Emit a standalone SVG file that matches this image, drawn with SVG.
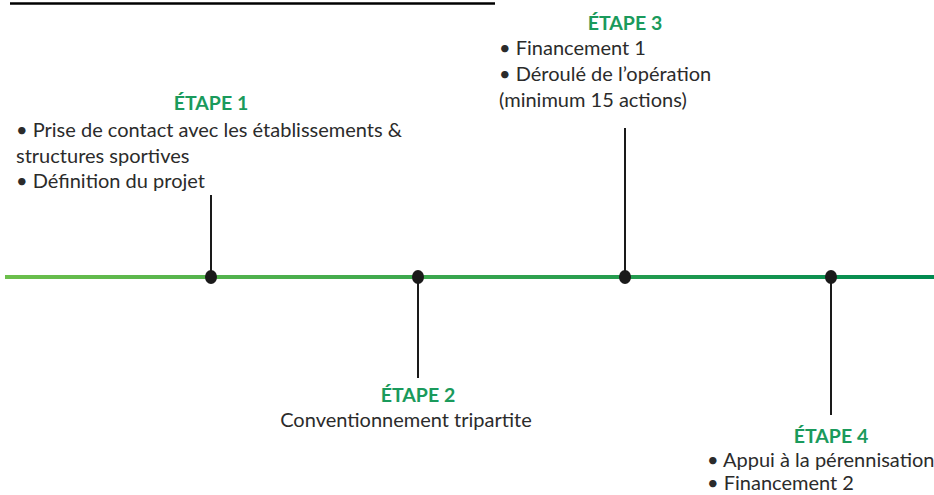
<svg xmlns="http://www.w3.org/2000/svg" width="934" height="495" viewBox="0 0 934 495">
<style>
.h{font-family:Lato,"Liberation Sans",sans-serif;font-weight:bold;font-size:19.5px;fill:#1a9a5c;text-anchor:middle}
.t{font-family:Lato,"Liberation Sans",sans-serif;font-size:20px;fill:#2b2b2b}
.stem{stroke:#1a1a1a;stroke-width:2}
.dot{fill:#1a1a1a}
</style>
<defs>
<linearGradient id="g" x1="0" y1="0" x2="1" y2="0">
<stop offset="0" stop-color="#6cbf4c"/>
<stop offset="1" stop-color="#008a50"/>
</linearGradient>
</defs>
<line x1="10" y1="3.5" x2="495" y2="3.5" stroke="#000" stroke-width="2.5"/>
<g id="connectors">
<rect x="5" y="275" width="929" height="4" fill="url(#g)"/>
<line class="stem" x1="211" y1="195" x2="211" y2="277"/>
<line class="stem" x1="418" y1="277" x2="418" y2="378"/>
<line class="stem" x1="625" y1="128" x2="625" y2="277"/>
<line class="stem" x1="831" y1="277" x2="831" y2="415"/>
</g>
<g id="etape1">
<ellipse class="dot" cx="211" cy="277" rx="6" ry="7"/>
<text class="h" x="211" y="110">ÉTAPE 1</text>
<text class="t" x="16" y="137">• Prise de contact avec les établissements &amp;</text>
<text class="t" x="16" y="163">structures sportives</text>
<text class="t" x="16" y="188">• Définition du projet</text>
</g>
<g id="etape2">
<ellipse class="dot" cx="418" cy="277" rx="6" ry="7"/>
<text class="h" x="418" y="402">ÉTAPE 2</text>
<text class="t" x="406" y="427" text-anchor="middle">Conventionnement tripartite</text>
</g>
<g id="etape3">
<ellipse class="dot" cx="625" cy="277" rx="6" ry="7"/>
<text class="h" x="625" y="30">ÉTAPE 3</text>
<text class="t" x="499" y="55">• Financement 1</text>
<text class="t" x="499" y="81">• Déroulé de l’opération</text>
<text class="t" x="499" y="107">(minimum 15 actions)</text>
</g>
<g id="etape4">
<ellipse class="dot" cx="831" cy="277" rx="6" ry="7"/>
<text class="h" x="831" y="443">ÉTAPE 4</text>
<text class="t" x="707" y="467">• Appui à la pérennisation</text>
<text class="t" x="707" y="490">• Financement 2</text>
</g>
</svg>
